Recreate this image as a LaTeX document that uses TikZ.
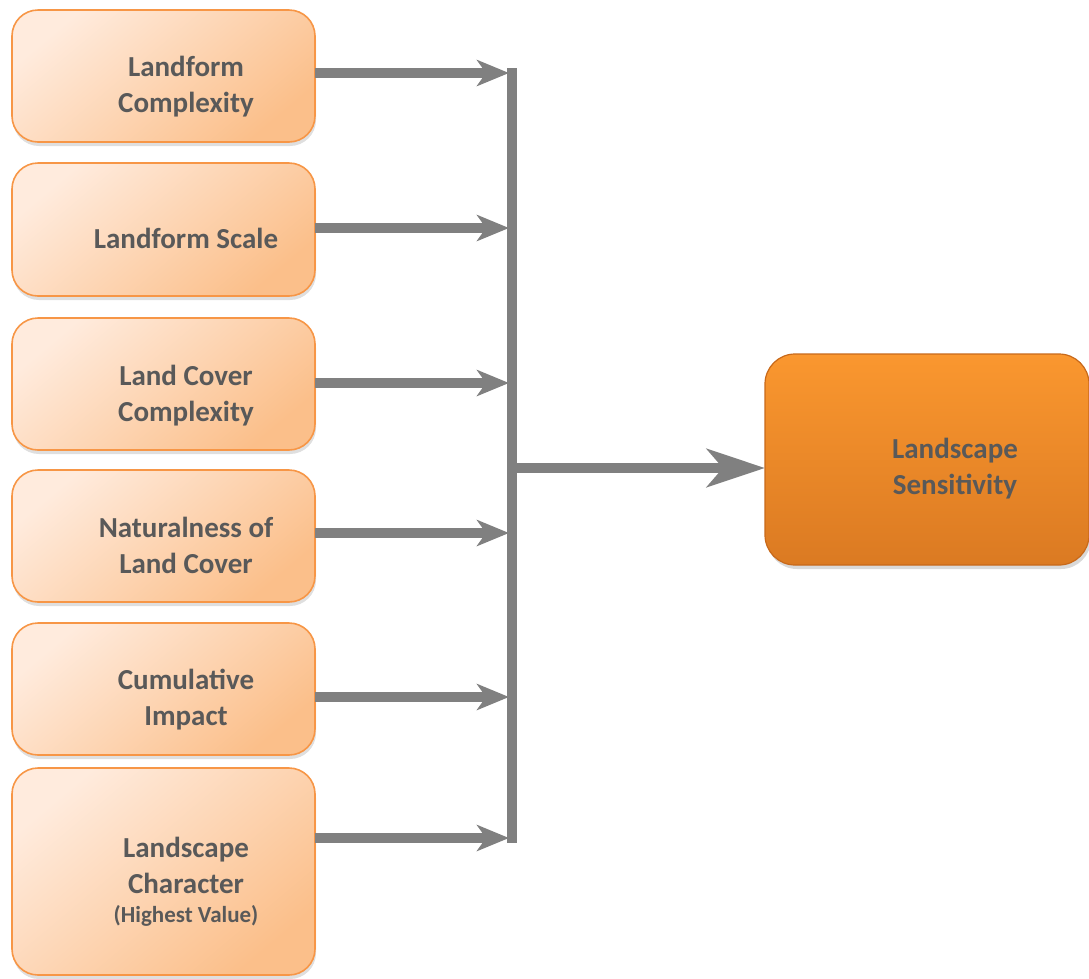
\documentclass[tikz,border=0pt]{standalone}
\usepackage{fontspec}
\setmainfont{Carlito}
\usetikzlibrary{arrows.meta,shadows}
\definecolor{txtgray}{HTML}{595959}
\definecolor{argray}{HTML}{808080}
\definecolor{peachA}{HTML}{FFEBDD}
\definecolor{peachB}{HTML}{FBBF8A}
\definecolor{peachEdge}{HTML}{F79646}
\definecolor{orA}{HTML}{FA972F}
\definecolor{orB}{HTML}{DB7A22}
\definecolor{orEdge}{HTML}{C8691A}
\tikzset{
  inbox/.style={draw=peachEdge, line width=1.6pt, rounded corners=26pt,
    top color=peachA, bottom color=peachB, shading angle=40,
    drop shadow={shadow xshift=1pt, shadow yshift=-4pt, opacity=0.25}},
  outbox/.style={draw=orEdge, line width=1.2pt, rounded corners=30pt,
    top color=orA, bottom color=orB,
    drop shadow={shadow xshift=2pt, shadow yshift=-4pt, opacity=0.3}},
  lbl/.style={text=txtgray, font=\fontsize{29}{36}\selectfont\bfseries, align=center, inner sep=0pt},
  conn/.style={draw=argray, line width=10pt},
  arr/.style={conn, -{Stealth[length=32pt, width=26pt, inset=9pt]}},
  bigarr/.style={conn, -{Stealth[length=58pt, width=38pt, inset=16pt]}},
}
\begin{document}
\begin{tikzpicture}[x=1pt, y=-1pt]
\useasboundingbox (0,0) rectangle (1089,978);
% input boxes
\path[inbox] (12,10) rectangle (315,142);
\path[inbox] (12,163) rectangle (315,296);
\path[inbox] (12,318) rectangle (315,450);
\path[inbox] (12,470) rectangle (315,602);
\path[inbox] (12,623) rectangle (315,755);
\path[inbox] (12,768) rectangle (315,975);
\path[outbox] (765,354) rectangle (1089,565);
% anchors for connectors
\coordinate (o1) at (315,73);
\coordinate (o2) at (315,228);
\coordinate (o3) at (315,383);
\coordinate (o4) at (315,533);
\coordinate (o5) at (315,697);
\coordinate (o6) at (315,838);
\coordinate (j1) at (512,73);
\coordinate (j2) at (512,228);
\coordinate (j3) at (512,383);
\coordinate (j4) at (512,533);
\coordinate (j5) at (512,697);
\coordinate (j6) at (512,838);
\coordinate (jm) at (512,468);
\coordinate (ls) at (765,468);
% labels
\node[lbl] (t1) at (186,87) {Landform\\Complexity};
\node[lbl] (t2) at (186,238) {Landform Scale};
\node[lbl] (t3) at (186,396) {Land Cover\\Complexity};
\node[lbl] (t4) at (186,545) {Naturalness of\\Land Cover};
\node[lbl] (t5) at (186,700) {Cumulative\\Impact};
\node[lbl] (t6) at (186,865) {Landscape\\Character};
\node[text=txtgray, font=\fontsize{23}{28}\selectfont\bfseries, inner sep=0pt] (t6b) at (186,916) {(Highest Value)};
\node[lbl] (tout) at (955,469) {Landscape\\Sensitivity};
% connectors
\draw[arr] (o1) -- ([xshift=-3pt]j1);
\draw[arr] (o2) -- ([xshift=-3pt]j2);
\draw[arr] (o3) -- ([xshift=-3pt]j3);
\draw[arr] (o4) -- ([xshift=-3pt]j4);
\draw[arr] (o5) -- ([xshift=-3pt]j5);
\draw[arr] (o6) -- ([xshift=-3pt]j6);
\draw[conn] ([yshift=5pt]j1) -- ([yshift=-5pt]j6);
\draw[bigarr] (jm) -- (ls);
\end{tikzpicture}
\end{document}
